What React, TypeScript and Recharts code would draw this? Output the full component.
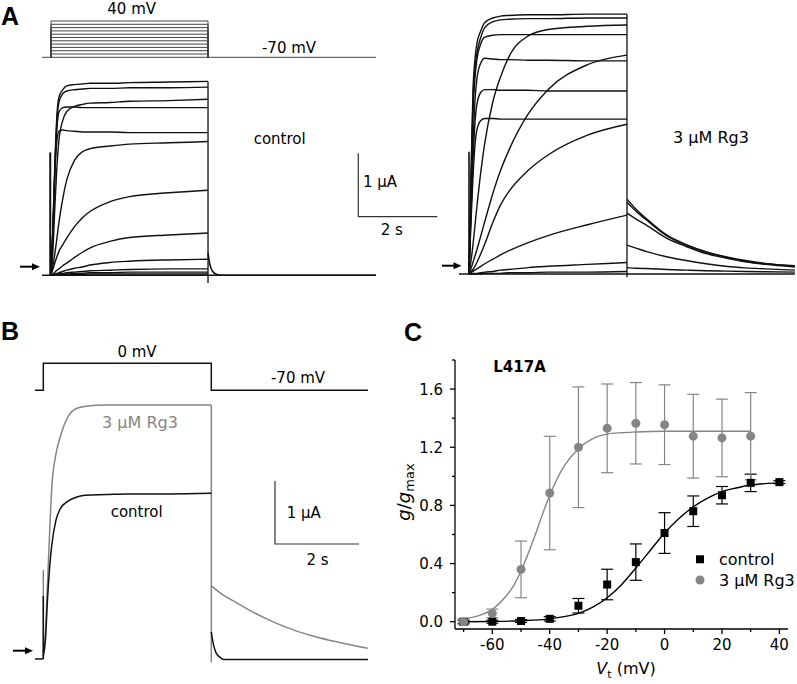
import React from 'react';
import { LineChart, Line, XAxis, YAxis, ComposedChart, Scatter, ErrorBar } from 'recharts';

const FONT = '"DejaVu Sans", Arial, sans-serif';
const BLACK = '#111111';
const GRAY = '#858585';

// ================= Panel A : voltage protocol (mV, s) =================
const holdingV = -70;
const stepLevelsA = [-60, -50, -40, -30, -20, -10, 0, 10, 20, 30, 40];
const pulseTimes = [0, 4];
const sweepA = [-0.23, 8.28];
const sweepAR = [-0.253, 8.25];

// ================= Panel A : control currents (µA) =================
const tOnA = [0, 0.05, 0.1, 0.15, 0.2, 0.3, 0.4, 0.6, 0.8, 1.0, 1.5, 2.0, 3.0, 4.0];
const ctrlTracesA = [
  [0, 0.8, 1.8, 2.5, 2.78, 2.9, 2.96, 2.98, 2.99, 3.0, 3.0, 3.01, 3.02, 3.03],
  [0, 0.75, 1.7, 2.4, 2.7, 2.84, 2.88, 2.9, 2.91, 2.92, 2.92, 2.93, 2.93, 2.94],
  [0, 0.4, 1.1, 1.7, 2.1, 2.42, 2.56, 2.64, 2.67, 2.69, 2.7, 2.72, 2.73, 2.75],
  [0, 0.75, 1.7, 2.3, 2.55, 2.62, 2.63, 2.63, 2.62, 2.62, 2.62, 2.62, 2.62, 2.62],
  [0, 0.7, 1.6, 2.1, 2.25, 2.27, 2.26, 2.25, 2.24, 2.24, 2.24, 2.23, 2.23, 2.23],
  [0, 0.15, 0.35, 0.58, 0.82, 1.2, 1.49, 1.8, 1.93, 1.98, 2.02, 2.05, 2.07, 2.09],
  [0, 0.1, 0.2, 0.29, 0.37, 0.48, 0.58, 0.76, 0.9, 1.0, 1.15, 1.23, 1.29, 1.33],
  [0, 0.02, 0.05, 0.08, 0.1, 0.15, 0.19, 0.28, 0.36, 0.43, 0.53, 0.59, 0.63, 0.66],
  [0, 0.01, 0.02, 0.03, 0.04, 0.06, 0.08, 0.11, 0.13, 0.16, 0.2, 0.22, 0.24, 0.25],
  [0, 0, 0.01, 0.01, 0.02, 0.03, 0.04, 0.05, 0.06, 0.07, 0.08, 0.09, 0.1, 0.1],
  [0, 0, 0, 0.01, 0.01, 0.02, 0.02, 0.03, 0.03, 0.04, 0.04, 0.05, 0.05, 0.05],
  [0, 0, 0, 0, 0, 0.01, 0.01, 0.01, 0.01, 0.02, 0.02, 0.02, 0.02, 0.02],
];
const tOffA = [4.0, 4.03, 4.07, 4.12, 4.2, 4.35, 8.28];
const ctrlTailA = [0.35, 0.22, 0.12, 0.06, 0.02, 0, 0];
const onSpikeA = [-0.02, 1.92];
const offEdgeA = [-0.12, 3.03];

// ================= Panel A : 3 µM Rg3 currents (µA) =================
const rg3TracesA = [
  [0, 1.5, 2.85, 3.35, 3.6, 3.8, 3.93, 4.0, 4.03, 4.04, 4.05, 4.05, 4.06, 4.06],
  [0, 1.4, 2.7, 3.2, 3.45, 3.7, 3.85, 3.94, 3.97, 3.98, 3.99, 3.99, 4.0, 4.0],
  [0, 0.2, 0.45, 0.75, 1.05, 1.6, 2.05, 2.68, 3.08, 3.38, 3.72, 3.82, 3.87, 3.89],
  [0, 1.3, 2.5, 3.05, 3.35, 3.6, 3.7, 3.73, 3.74, 3.74, 3.74, 3.74, 3.74, 3.74],
  [0, 0.08, 0.18, 0.28, 0.38, 0.6, 0.82, 1.25, 1.62, 1.92, 2.5, 2.88, 3.27, 3.42],
  [0, 1.0, 2.0, 2.7, 3.05, 3.3, 3.37, 3.36, 3.35, 3.35, 3.34, 3.34, 3.33, 3.33],
  [0, 0.9, 1.75, 2.35, 2.65, 2.84, 2.88, 2.88, 2.87, 2.87, 2.87, 2.86, 2.86, 2.86],
  [0, 0.8, 1.5, 2.0, 2.25, 2.4, 2.43, 2.43, 2.42, 2.42, 2.42, 2.42, 2.42, 2.42],
  [0, 0.03, 0.07, 0.12, 0.18, 0.32, 0.47, 0.8, 1.08, 1.28, 1.62, 1.86, 2.17, 2.34],
  [0, 0.02, 0.04, 0.06, 0.08, 0.12, 0.16, 0.23, 0.3, 0.36, 0.49, 0.6, 0.77, 0.92],
  [0, 0, 0.01, 0.01, 0.01, 0.02, 0.03, 0.04, 0.06, 0.07, 0.1, 0.12, 0.15, 0.18],
  [0, 0, 0, 0, 0, 0, 0.01, 0.01, 0.01, 0.02, 0.02, 0.03, 0.03, 0.04],
];
const tOffR = [4.0, 4.25, 4.5, 5.0, 5.5, 6.0, 6.5, 7.0, 7.5, 8.25];
const rg3TailsA = [
  [1.17, 1.0, 0.86, 0.61, 0.46, 0.35, 0.27, 0.21, 0.165, 0.13],
  [1.12, 0.97, 0.84, 0.6, 0.45, 0.34, 0.26, 0.2, 0.16, 0.12],
  [0.95, 0.85, 0.76, 0.56, 0.43, 0.32, 0.25, 0.19, 0.15, 0.11],
  [0.45, 0.4, 0.35, 0.27, 0.21, 0.16, 0.12, 0.095, 0.08, 0.06],
  [0.1, 0.09, 0.085, 0.07, 0.06, 0.05, 0.045, 0.04, 0.035, 0.03],
];
const onSpikeR = [0, 1.91];
const offEdgeR = [-0.05, 4.06];

// ================= Panel B : 0 mV step =================
const stepLevelB = 0;
const sweepB = [-0.198, 7.73];
const tOnB = [0, 0.05, 0.1, 0.15, 0.2, 0.3, 0.4, 0.6, 0.8, 1.0, 1.5, 2.0, 3.0, 4.0];
const rg3OnB = [0.1, 0.4, 1.2, 2.0, 2.7, 3.25, 3.52, 3.86, 3.98, 4.01, 4.03, 4.03, 4.03, 4.03];
const ctrlOnB = [0.05, 0.3, 0.95, 1.45, 1.8, 2.2, 2.38, 2.51, 2.57, 2.6, 2.61, 2.62, 2.62, 2.63];
const tOffB = [4.0, 4.25, 4.5, 5.0, 5.5, 6.0, 6.5, 7.0, 7.73];
const rg3TailB = [1.16, 1.03, 0.93, 0.74, 0.58, 0.45, 0.35, 0.27, 0.17];
const tOffCtrlB = [4.0, 4.03, 4.07, 4.12, 4.2, 4.3, 7.73];
const ctrlTailB = [0.43, 0.3, 0.18, 0.09, 0.03, -0.01, -0.01];
const rg3SpikeB = [0, 1.41];
const ctrlSpikeB = [0, 1.0];
const offEdgeB = [-0.05, 4.03];

// ================= Panel C : g/gmax vs Vt =================
const ctrlV = [-70, -60, -50, -40, -30, -20, -10, 0, 10, 20, 30, 40];
const ctrlG = [0, 0, 0.005, 0.02, 0.11, 0.256, 0.41, 0.61, 0.76, 0.87, 0.955, 0.96];
const ctrlErr = [0.01, 0.01, 0.01, 0.015, 0.05, 0.105, 0.125, 0.14, 0.105, 0.06, 0.06, 0.01];
const rg3V = [-70, -60, -50, -40, -30, -20, -10, 0, 10, 20, 30];
const rg3G = [0, 0.057, 0.36, 0.885, 1.2, 1.33, 1.365, 1.355, 1.276, 1.264, 1.276];
const rg3Err = [0.02, 0.03, 0.195, 0.39, 0.415, 0.305, 0.28, 0.274, 0.288, 0.267, 0.3];
const fitCtrlV = [-70, -60, -50, -40, -35, -30, -25, -20, -15, -10, -5, 0, 5, 10, 15, 20, 25, 30, 35, 40];
const fitCtrlG = [0, 0.002, 0.007, 0.02, 0.035, 0.058, 0.1, 0.165, 0.255, 0.37, 0.49, 0.61, 0.71, 0.79, 0.85, 0.895, 0.92, 0.94, 0.95, 0.955];
const fitRg3V = [-70, -65, -60, -55, -52.5, -50, -47.5, -45, -42.5, -40, -37.5, -35, -30, -25, -20, -15, -10, 0, 10, 20, 30];
const fitRg3G = [0.02, 0.04, 0.085, 0.18, 0.25, 0.35, 0.47, 0.6, 0.74, 0.87, 0.98, 1.07, 1.19, 1.26, 1.29, 1.3, 1.305, 1.31, 1.31, 1.31, 1.31];
const xTicksC = [-70, -60, -50, -40, -30, -20, -10, 0, 10, 20, 30, 40];
const xMajorC = [-60, -40, -20, 0, 20, 40];
const yTicksC = [0, 0.2, 0.4, 0.6, 0.8, 1.0, 1.2, 1.4, 1.6, 1.8];
const yMajorC = [0, 0.4, 0.8, 1.2, 1.6];

// ---------------- helpers ----------------
type Pt = { t: number; v: number };
type Trace = { pts: Pt[]; color: string; width: number; curve?: 'monotone' | 'linear' };
const pts = (ts: number[], vs: number[]): Pt[] => ts.map((t, i) => ({ t, v: vs[i] }));
const vline = (t: number, range: number[]): Pt[] => [{ t, v: range[0] }, { t, v: range[1] }];
const hline = (range: number[], v: number): Pt[] => [{ t: range[0], v }, { t: range[1], v }];
const pulse = (level: number): Pt[] => [
  { t: pulseTimes[0], v: holdingV },
  { t: pulseTimes[0], v: level },
  { t: pulseTimes[1], v: level },
  { t: pulseTimes[1], v: holdingV },
];

function TraceChart(props: {
  left: number; top: number; width: number; height: number;
  xDomain: number[]; yDomain: number[]; traces: Trace[];
}) {
  const { left, top, width, height, xDomain, yDomain, traces } = props;
  return (
    <div style={{ position: 'absolute', left, top, width, height }}>
      <LineChart width={width} height={height} margin={{ top: 0, right: 0, bottom: 0, left: 0 }}>
        <XAxis type="number" dataKey="t" domain={xDomain} hide allowDataOverflow />
        <YAxis type="number" dataKey="v" domain={yDomain} hide allowDataOverflow />
        {traces.map((tr, i) => (
          <Line
            key={i}
            data={tr.pts}
            dataKey="v"
            type={tr.curve ?? 'monotone'}
            stroke={tr.color}
            strokeWidth={tr.width}
            dot={false}
            activeDot={false}
            isAnimationActive={false}
          />
        ))}
      </LineChart>
    </div>
  );
}

const TICK = 5;
const TICK_MINOR = 3;
const near = (arr: number[], v: number) => arr.some((m) => Math.abs(m - v) < 1e-6);

function YTick(p: any) {
  const { x, y, payload } = p;
  const v = payload.value as number;
  const major = near(yMajorC, v);
  const ax = x + 7 + TICK;
  return (
    <g>
      <line x1={ax - (major ? TICK : TICK_MINOR)} x2={ax} y1={y} y2={y} stroke="#000" strokeWidth={1.3} />
      {major && (
        <text x={x} y={y} dy={5.5} textAnchor="end" fontFamily={FONT} fontSize={15} fill="#000">
          {v.toFixed(1)}
        </text>
      )}
    </g>
  );
}

function XTick(p: any) {
  const { x, y, payload } = p;
  const v = payload.value as number;
  const major = near(xMajorC, v);
  const ay = y - 3 - TICK;
  return (
    <g>
      <line x1={x} x2={x} y1={ay} y2={ay + (major ? TICK : TICK_MINOR)} stroke="#000" strokeWidth={1.3} />
      {major && (
        <text x={x} y={ay + 21} textAnchor="middle" fontFamily={FONT} fontSize={15} fill="#000">
          {String(v)}
        </text>
      )}
    </g>
  );
}

const SquareShape = (p: any) => <rect x={p.cx - 4} y={p.cy - 4} width={8} height={8} fill="#000" />;
const CircleShape = (p: any) => <circle cx={p.cx} cy={p.cy} r={4.5} fill={GRAY} />;

function Arrow({ x1, x2, y }: { x1: number; x2: number; y: number }) {
  return (
    <g>
      <line x1={x1} x2={x2 - 5} y1={y} y2={y} stroke="#000" strokeWidth={2} />
      <polygon points={`${x2},${y} ${x2 - 8},${y - 3.5} ${x2 - 8},${y + 3.5}`} fill="#000" />
    </g>
  );
}

export default function App() {
  // ---- traces ----
  const voltA: Trace[] = [
    { pts: hline(sweepA, holdingV), color: '#444', width: 1, curve: 'linear' },
    ...stepLevelsA.map((L) => ({ pts: pulse(L), color: '#444', width: 1, curve: 'linear' as const })),
  ];
  const ctrlA: Trace[] = [
    { pts: hline(sweepA, 0), color: BLACK, width: 1.4, curve: 'linear' },
    ...ctrlTracesA.map((vs) => ({ pts: pts(tOnA, vs), color: BLACK, width: 1.4 })),
    { pts: pts(tOffA, ctrlTailA), color: BLACK, width: 1.6 },
    { pts: vline(onSpikeA[0], [0, onSpikeA[1]]), color: BLACK, width: 2, curve: 'linear' },
    { pts: vline(pulseTimes[1], offEdgeA), color: BLACK, width: 1.3, curve: 'linear' },
  ];
  const rg3A: Trace[] = [
    { pts: hline(sweepAR, 0), color: BLACK, width: 1.4, curve: 'linear' },
    ...rg3TracesA.map((vs) => ({ pts: pts(tOnA, vs), color: BLACK, width: 1.4 })),
    ...rg3TailsA.map((vs) => ({ pts: pts(tOffR, vs), color: BLACK, width: 1.4 })),
    { pts: vline(onSpikeR[0], [0, onSpikeR[1]]), color: BLACK, width: 1.6, curve: 'linear' },
    { pts: vline(pulseTimes[1], offEdgeR), color: BLACK, width: 1.3, curve: 'linear' },
  ];
  const voltB: Trace[] = [
    {
      pts: [
        { t: sweepB[0], v: holdingV },
        ...pulse(stepLevelB),
        { t: sweepB[1], v: holdingV },
      ],
      color: BLACK, width: 1.5, curve: 'linear',
    },
  ];
  const curB: Trace[] = [
    { pts: hline([sweepB[0], pulseTimes[0]], 0), color: BLACK, width: 1.5, curve: 'linear' },
    { pts: vline(0, rg3SpikeB), color: GRAY, width: 1.5, curve: 'linear' },
    { pts: pts(tOnB, rg3OnB), color: GRAY, width: 1.5 },
    { pts: vline(pulseTimes[1], offEdgeB), color: GRAY, width: 1.5, curve: 'linear' },
    { pts: pts(tOffB, rg3TailB), color: GRAY, width: 1.5 },
    { pts: vline(0, ctrlSpikeB), color: BLACK, width: 1.5, curve: 'linear' },
    { pts: pts(tOnB, ctrlOnB), color: BLACK, width: 1.5 },
    { pts: pts(tOffCtrlB, ctrlTailB), color: BLACK, width: 1.5 },
  ];

  const ctrlPts = ctrlV.map((x, i) => ({ x, y: ctrlG[i], err: ctrlErr[i] }));
  const rg3Pts = rg3V.map((x, i) => ({ x, y: rg3G[i], err: rg3Err[i] }));
  const fitCtrl = fitCtrlV.map((x, i) => ({ x, y: fitCtrlG[i] }));
  const fitRg3 = fitRg3V.map((x, i) => ({ x, y: fitRg3G[i] }));

  const txt = { fontFamily: FONT, fill: '#000' } as const;

  return (
    <div style={{ position: 'absolute', left: 0, top: 0, width: 797, height: 684, background: '#fff', overflow: 'hidden' }}>
      <TraceChart left={42} top={10} width={334} height={55} xDomain={sweepA} yDomain={[-93.3, 73.3]} traces={voltA} />
      <TraceChart left={42} top={70} width={334} height={220} xDomain={sweepA} yDomain={[-0.2297, 3.2078]} traces={ctrlA} />
      <TraceChart left={459} top={5} width={338} height={285} xDomain={[-0.253, 8.304]} yDomain={[-0.25, 4.203]} traces={rg3A} />
      <TraceChart left={35} top={350} width={333} height={50} xDomain={[-0.198, 7.731]} yDomain={[-95.1, 34.5]} traces={voltB} />
      <TraceChart left={35} top={395} width={333} height={275} xDomain={[-0.198, 7.731]} yDomain={[-0.175, 4.19]} traces={curB} />

      <div style={{ position: 'absolute', left: 400, top: 340, width: 397, height: 344 }}>
        <ComposedChart width={397} height={344} margin={{ top: 20, right: 9, bottom: 25, left: 0 }}>
          <XAxis
            type="number" dataKey="x" domain={[-73, 43]} ticks={xTicksC} interval={0}
            tickSize={TICK} tickMargin={3} tickLine={false} tick={XTick} height={30}
            axisLine={{ stroke: '#000', strokeWidth: 1.3 }} allowDataOverflow
          />
          <YAxis
            type="number" dataKey="y" domain={[-0.05, 1.8]} ticks={yTicksC} interval={0}
            tickSize={TICK} tickMargin={7} tickLine={false} tick={YTick} width={55}
            axisLine={{ stroke: '#000', strokeWidth: 1.3 }} allowDataOverflow
          />
          <Line data={fitCtrl} dataKey="y" type="monotone" stroke="#000" strokeWidth={1.4} dot={false} activeDot={false} isAnimationActive={false} />
          <Line data={fitRg3} dataKey="y" type="monotone" stroke={GRAY} strokeWidth={1.4} dot={false} activeDot={false} isAnimationActive={false} />
          <Scatter data={ctrlPts} dataKey="y" fill="#000" shape={SquareShape} isAnimationActive={false}>
            <ErrorBar dataKey="err" direction="y" width={6} stroke="#000" strokeWidth={1.2} />
          </Scatter>
          <Scatter data={rg3Pts} dataKey="y" fill={GRAY} shape={CircleShape} isAnimationActive={false}>
            <ErrorBar dataKey="err" direction="y" width={6} stroke={GRAY} strokeWidth={1.2} />
          </Scatter>
        </ComposedChart>
      </div>

      <svg width={797} height={684} style={{ position: 'absolute', left: 0, top: 0, pointerEvents: 'none' }}>
        {/* panel letters */}
        <text x={1} y={25} fontFamily='"Liberation Sans", Arial, sans-serif' fontWeight="bold" fontSize={25}>A</text>
        <text x={1} y={340} fontFamily='"Liberation Sans", Arial, sans-serif' fontWeight="bold" fontSize={25}>B</text>
        <text x={404} y={341} fontFamily='"Liberation Sans", Arial, sans-serif' fontWeight="bold" fontSize={25}>C</text>

        {/* panel A labels */}
        <text {...txt} x={131.7} y={13.5} fontSize={15} textAnchor="middle">40 mV</text>
        <text {...txt} x={289} y={53.3} fontSize={15} textAnchor="middle">-70 mV</text>
        <text {...txt} x={279.7} y={144} fontSize={15} textAnchor="middle">control</text>
        <text {...txt} x={711} y={142.6} fontSize={16} textAnchor="middle">3 μM Rg3</text>
        <polyline points="358.3,153.3 358.3,216.7 437.3,216.7" fill="none" stroke="#333" strokeWidth={1.2} />
        <text {...txt} x={363} y={187.3} fontSize={15}>1 μA</text>
        <text {...txt} x={391.7} y={235} fontSize={15} textAnchor="middle">2 s</text>
        <Arrow x1={20} x2={40} y={266.7} />
        <Arrow x1={442} x2={461.5} y={265.7} />

        {/* panel B labels */}
        <text {...txt} x={137} y={356.7} fontSize={15} textAnchor="middle">0 mV</text>
        <text {...txt} x={298} y={383.3} fontSize={15} textAnchor="middle">-70 mV</text>
        <text fontFamily={FONT} fill={GRAY} x={140} y={427.6} fontSize={16} textAnchor="middle">3 μM Rg3</text>
        <text {...txt} x={136.7} y={516.7} fontSize={15} textAnchor="middle">control</text>
        <polyline points="275,481 275,544 359,544" fill="none" stroke="#333" strokeWidth={1.2} />
        <text {...txt} x={286.7} y={517.5} fontSize={15}>1 μA</text>
        <text {...txt} x={317.5} y={565} fontSize={15} textAnchor="middle">2 s</text>
        <Arrow x1={13} x2={33} y={650.7} />

        {/* panel C labels */}
        <text {...txt} x={493.3} y={372} fontSize={15} fontWeight="bold">L417A</text>
        <rect x={696} y={555.3} width={8} height={8} fill="#000" />
        <text {...txt} x={719} y={565} fontSize={16}>control</text>
        <circle cx={700} cy={580} r={4.5} fill={GRAY} />
        <text {...txt} x={719} y={585.5} fontSize={16}>3 μM Rg3</text>
        <text {...txt} x={626} y={674} fontSize={16} textAnchor="middle">
          <tspan fontStyle="italic">V</tspan>
          <tspan fontSize={11} dy={4}>t</tspan>
          <tspan dy={-4}> (mV)</tspan>
        </text>
        <text {...txt} transform="translate(410,492) rotate(-90)" fontSize={18} textAnchor="middle">
          <tspan fontStyle="italic">g</tspan>
          <tspan>/</tspan>
          <tspan fontStyle="italic">g</tspan>
          <tspan fontSize={13} dy={4}>max</tspan>
        </text>
      </svg>
    </div>
  );
}
